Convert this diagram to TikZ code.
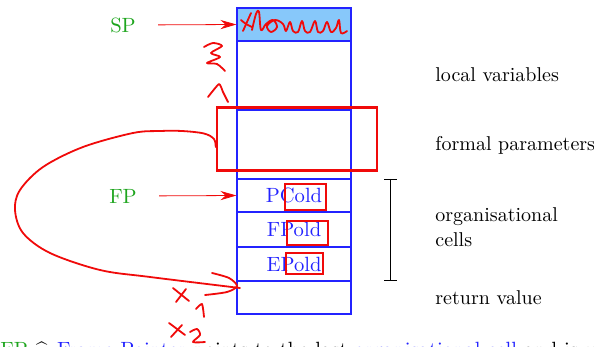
\documentclass[tikz,border=0pt]{standalone}
\usepackage{amsmath}
\usetikzlibrary{arrows.meta}
\definecolor{spfill}{RGB}{135,200,250}
\definecolor{cellblue}{RGB}{35,35,255}
\definecolor{lblgreen}{RGB}{30,165,30}
\definecolor{inkred}{RGB}{240,10,10}
\begin{document}
\begin{tikzpicture}[x=0.5pt,y=-0.5pt,
  every node/.style={font=\fontsize{10}{12.4}\selectfont},
  cell/.style={draw=cellblue,line width=0.55pt,minimum width=57pt,inner sep=0pt,text=cellblue},
  ptr/.style={draw=inkred,line width=0.4pt,-{Stealth[length=8pt,width=4.6pt]}},
  oldbox/.style={draw=inkred,line width=1.3pt,inner sep=0pt},
  ink/.style={draw=inkred,line width=0.9pt,line cap=round,line join=round},
  lbl/.style={anchor=west,inner sep=0pt,align=left},
  reglbl/.style={text=lblgreen,inner sep=0pt}]
\useasboundingbox (0,0) rectangle (594,347);
\clip (0,0) rectangle (594,347);

% stack frame cells
\node[cell,fill=spfill,minimum height=16.5pt] (c1) at (294,24.5) {};
\node[cell,minimum height=34.5pt] (c2) at (294,75.5) {};
\node[cell,minimum height=34.5pt] (c3) at (294,144.5) {};
\node[cell,minimum height=16.5pt,font=\fontsize{10.3}{12.6}\selectfont] (c4) at (294,195.5) {PCold};
\node[cell,minimum height=17.5pt,font=\fontsize{10.3}{12.6}\selectfont] (c5) at (294,229.5) {FPold};
\node[cell,minimum height=17pt,font=\fontsize{10.3}{12.6}\selectfont] (c6) at (294,264) {EPold};
\node[cell,minimum height=16.5pt] (c7) at (294,297.5) {};

% register labels and pointers
\node[reglbl,font=\fontsize{10.3}{12.6}\selectfont] (sp) at (123,25) {SP};
\node[reglbl,font=\fontsize{10.3}{12.6}\selectfont] (fp) at (123,196) {FP};
\draw[ptr,shorten <=11pt] (sp.east) -- (c1.west);
\draw[ptr,shorten <=11pt] (fp.east) -- (c4.west);

% descriptions
\node[lbl] (lv) at (435,75) {local variables};
\node[lbl] (fpar) at (435,145) {formal parameters};
\node[lbl] (org) at (435,227) {organisational\\cells};
\node[lbl] (rv) at (435,298) {return value};

% bracket over the organisational cells
\coordinate (bt) at (390,179);
\coordinate (bb) at (390,280);
\draw[line width=0.45pt] (bt) -- (bb);
\draw[line width=0.45pt] ([xshift=-3pt]bt) -- ([xshift=3.5pt]bt);
\draw[line width=0.45pt] ([xshift=-3pt]bb) -- ([xshift=3.5pt]bb);

% footnote line
\node[anchor=base west,inner sep=0pt,font=\fontsize{10.3}{12.6}\selectfont] (foot) at (0,356)
  {\textcolor{lblgreen}{FP} $\mathrel{\widehat{=}}$ \textcolor{cellblue}{Frame Pointer} points to the last \textcolor{cellblue}{organisational cell} and is used};

% red annotations
\node[oldbox,minimum width=80pt,minimum height=31.5pt] (bigbox) at (297,139) {};
\node[oldbox,minimum width=20.5pt,minimum height=13pt] (ob1) at (305.5,197) {};
\node[oldbox,minimum width=20.5pt,minimum height=12pt] (ob2) at (307.5,233) {};
\node[oldbox,minimum width=18.5pt,minimum height=10.5pt] (ob3) at (304.5,263.5) {};

% scribble in the SP cell
\draw[ink] plot[smooth,tension=0.6] coordinates {(241,20) (246,24) (252,27)};
\draw[ink] plot[smooth,tension=0.6] coordinates {(243,31) (247,22) (251,13)};
\draw[ink] plot[smooth,tension=0.6] coordinates {(252,30) (256,14) (259,12) (261,30) (266,24) (273,20) (277,27) (271,32) (267,26) (275,20) (283,24) (286,31) (290,22) (293,31) (298,32) (302,21) (305,31) (310,32) (315,21) (318,32) (323,31) (327,22) (331,32) (336,28) (339,20) (341,33) (347,31)};

% handwritten 3 and 1 left of the stack
\draw[ink] plot[smooth,tension=0.5] coordinates {(204,47) (213,43) (222,46) (211,53) (220,57) (207,63) (217,64) (225,71)};
\draw[ink] plot[smooth,tension=0.3] coordinates {(208,97) (219,84) (223,92) (228,102)};

% loop from the parameter box down to the return value cell
\coordinate (loopend) at (240,288);
\draw[ink] plot[smooth,tension=0.55] coordinates {([yshift=-4pt]bigbox.west) (214,139) (204,133.5) (182,131) (160,131) (133,133) (83,147) (43,167) (20,190) (15,210) (23,233) (50,253) (100,270) (150,277) (loopend)};
\draw[ink] plot[smooth,tension=0.5] coordinates {(212,273) (229,278) (237,286) (227,292) (205,295)};

% x1 and x2
\draw[ink] (173,288) -- (189,301);
\draw[ink] (176,302) -- (186,289);
\draw[ink] plot[smooth,tension=0.4] coordinates {(196,309) (202,304) (204,317)};
\draw[ink] (169,323) -- (185,335);
\draw[ink] (171,337) -- (182,325);
\draw[ink] plot[smooth,tension=0.5] coordinates {(190,332) (197,329) (200,335) (193,342) (205,342)};
\end{tikzpicture}
\end{document}
